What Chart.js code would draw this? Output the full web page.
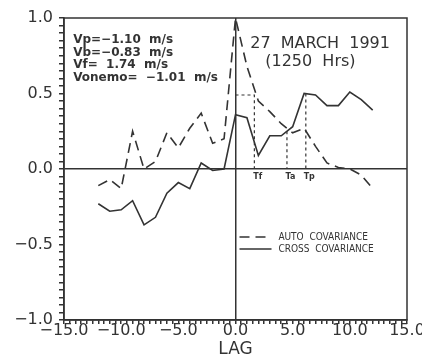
<!DOCTYPE html>
<html>
<head>
<meta charset="utf-8">
<script src="https://cdn.jsdelivr.net/npm/chart.js@4.4.1/dist/chart.umd.min.js"></script>
<style>
  html, body { margin: 0; padding: 0; background: #fff; }
  #wrap { width: 422px; height: 356px; position: relative; }
</style>
</head>
<body>
<div id="wrap"><canvas id="covChart"></canvas></div>
<script>
// lag axis (integer steps) and the two series
const lags = [-12, -11, -10, -9, -8, -7, -6, -5, -4, -3, -2, -1, 0, 1, 2, 3, 4, 5, 6, 7, 8, 9, 10, 11, 12];
const autoCov = [-0.11, -0.07, -0.13, 0.25, 0.00, 0.05, 0.24, 0.14, 0.27, 0.37, 0.17, 0.20, 1.00,
                 0.68, 0.45, 0.38, 0.30, 0.24, 0.27, 0.15, 0.04, 0.01, 0.00, -0.04, -0.13];
const crossCov = [-0.23, -0.28, -0.27, -0.21, -0.37, -0.32, -0.16, -0.09, -0.13, 0.04, -0.01, 0.00, 0.36,
                  0.34, 0.09, 0.22, 0.22, 0.28, 0.50, 0.49, 0.42, 0.42, 0.51, 0.46, 0.39];

// time markers (dotted drop lines)
const markerNames = ['Tf', 'Ta', 'Tp'];
const markerLags = [1.65, 4.5, 6.15];
const markerLevels = [0.49, 0.25, 0.50];
const markerFromAxis = [true, false, false];

const infoLines = ['Vp=\u22121.10  m/s', 'Vb=\u22120.83  m/s', 'Vf=  1.74  m/s', 'Vonemo=  \u22121.01  m/s'];
const dateLines = ['27  MARCH  1991', '(1250  Hrs)'];

const xTickValues = [-15, -10, -5, 0, 5, 10, 15];
const yTickValues = [-1, -0.5, 0, 0.5, 1];

const ink = '#333';
const fontFam = '"DejaVu Sans", sans-serif';

function fmt(v) {
    return (v < 0 ? '\u2212' : '') + Math.abs(v).toFixed(1);
}
function isIn(list, v) {
    return list.some((t) => Math.abs(t - v) < 1e-6);
}

const markerSets = markerNames.map((name, i) => {
    const pts = [];
    if (markerFromAxis[i]) pts.push({ x: 0, y: markerLevels[i] });
    pts.push({ x: markerLags[i], y: markerLevels[i] });
    pts.push({ x: markerLags[i], y: 0 });
    return {
        label: name,
        data: pts,
        borderColor: ink,
        borderWidth: 1.2,
        borderDash: [3, 3],
        pointRadius: 0,
        fill: false
    };
});

const textPlugin = {
    id: 'textPlugin',
    afterDatasetsDraw(chart) {
        const { ctx, chartArea, scales } = chart;
        const sx = scales.x, sy = scales.y;
        ctx.save();
        // frame
        ctx.strokeStyle = ink;
        ctx.lineWidth = 1.5;
        ctx.strokeRect(chartArea.left, chartArea.top, chartArea.right - chartArea.left, chartArea.bottom - chartArea.top);

        ctx.fillStyle = ink;
        ctx.textBaseline = 'middle';

        // velocities
        ctx.font = 'bold 12px ' + fontFam;
        ctx.textAlign = 'left';
        const infoY = [0.855, 0.77, 0.69, 0.605];
        infoLines.forEach((t, i) => ctx.fillText(t, sx.getPixelForValue(-14.2), sy.getPixelForValue(infoY[i])));

        // date
        ctx.font = '16px ' + fontFam;
        ctx.textAlign = 'center';
        ctx.fillText(dateLines[0], sx.getPixelForValue(7.4), sy.getPixelForValue(0.83));
        ctx.fillText(dateLines[1], sx.getPixelForValue(6.55), sy.getPixelForValue(0.71));

        // marker labels
        ctx.font = 'bold 8px ' + fontFam;
        markerNames.forEach((n, i) => ctx.fillText(n, sx.getPixelForValue(markerLags[i] + 0.3), sy.getPixelForValue(-0.05)));

        // legend
        const legendY = [-0.45, -0.53];
        ctx.font = '10px "DejaVu Sans Condensed", ' + fontFam;
        ctx.textAlign = 'left';
        [0, 1].forEach((k) => {
            const ds = chart.data.datasets[k];
            const y = sy.getPixelForValue(legendY[k]);
            ctx.beginPath();
            ctx.setLineDash(ds.borderDash || []);
            ctx.lineWidth = ds.borderWidth;
            ctx.strokeStyle = ds.borderColor;
            ctx.moveTo(sx.getPixelForValue(0.35), y);
            ctx.lineTo(sx.getPixelForValue(3.15), y);
            ctx.stroke();
            ctx.setLineDash([]);
            ctx.fillText(ds.label, sx.getPixelForValue(3.75), y);
        });
        ctx.restore();
    }
};

new Chart(document.getElementById('covChart'), {
    type: 'line',
    data: {
        datasets: [
            {
                label: 'AUTO  COVARIANCE',
                data: lags.map((x, i) => ({ x, y: autoCov[i] })),
                borderColor: ink,
                borderWidth: 1.6,
                borderDash: [10, 6],
                pointRadius: 0,
                fill: false
            },
            {
                label: 'CROSS  COVARIANCE',
                data: lags.map((x, i) => ({ x, y: crossCov[i] })),
                borderColor: ink,
                borderWidth: 1.6,
                pointRadius: 0,
                fill: false
            },
            ...markerSets
        ]
    },
    options: {
        responsive: true,
        maintainAspectRatio: false,
        animation: false,
        devicePixelRatio: 1,
        layout: { padding: { top: 18, right: 15, left: 0, bottom: 0 } },
        plugins: { legend: { display: false }, tooltip: { enabled: false } },
        scales: {
            x: {
                type: 'linear',
                min: -15,
                max: 15,
                ticks: {
                    stepSize: 0.5,
                    autoSkip: false,
                    maxRotation: 0,
                    minRotation: 0,
                    padding: -3,
                    color: ink,
                    font: { family: fontFam, size: 16 },
                    callback: (v) => (isIn(xTickValues, v) ? fmt(v) : '')
                },
                grid: {
                    color: (c) => (c.tick && Math.abs(c.tick.value) < 1e-9 ? ink : 'transparent'),
                    tickColor: ink,
                    tickLength: 4,
                    lineWidth: 1.5
                },
                border: { color: ink, width: 1.5 },
                title: { display: true, text: 'LAG', color: ink, font: { family: fontFam, size: 17 }, padding: { top: 0, bottom: -4 } },
                afterFit: (s) => { s.height = 36; s.paddingLeft = 0; s.paddingRight = 0; }
            },
            y: {
                min: -1,
                max: 1,
                ticks: {
                    stepSize: 0.05,
                    autoSkip: false,
                    padding: 6,
                    color: ink,
                    font: { family: fontFam, size: 16 },
                    callback: (v) => (isIn(yTickValues, v) ? fmt(v) : '')
                },
                grid: {
                    color: (c) => (c.tick && Math.abs(c.tick.value) < 1e-9 ? ink : 'transparent'),
                    tickColor: ink,
                    tickLength: 5,
                    lineWidth: 1.5
                },
                border: { color: ink, width: 1.5 },
                afterFit: (s) => { s.width = 64; s.paddingTop = 0; s.paddingBottom = 0; }
            }
        }
    },
    plugins: [textPlugin]
});
</script>
</body>
</html>
